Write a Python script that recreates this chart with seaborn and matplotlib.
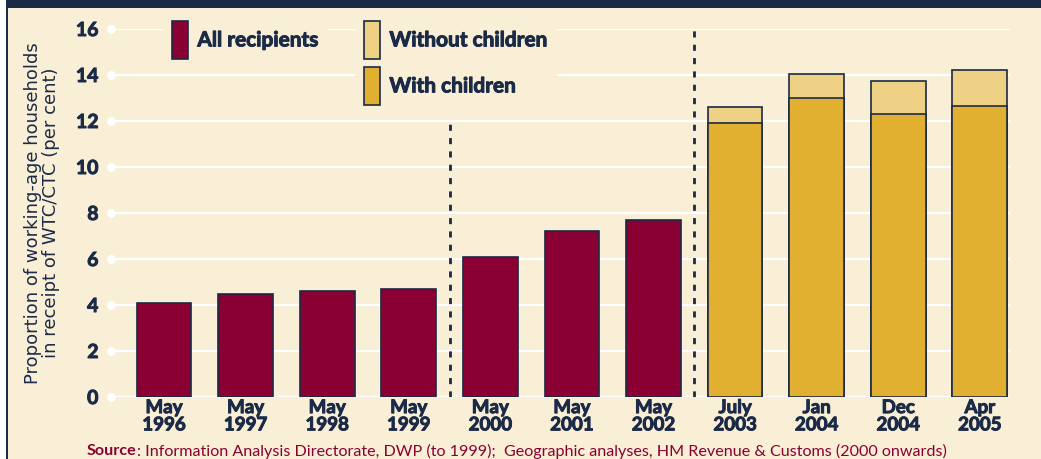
import matplotlib
matplotlib.use("Agg")
import matplotlib.pyplot as plt
import matplotlib.patheffects as pe
from matplotlib.patches import Patch, Rectangle
import seaborn as sns
import pandas as pd

# data
periods = ["May\n1996", "May\n1997", "May\n1998", "May\n1999", "May\n2000", "May\n2001",
           "May\n2002", "July\n2003", "Jan\n2004", "Dec\n2004", "Apr\n2005"]
all_recipients = [4.1, 4.5, 4.6, 4.7, 6.1, 7.2, 7.7]
with_children = [11.9, 13.0, 12.3, 12.65]
without_children = [0.7, 1.05, 1.45, 1.55]
y_ticks = [0, 2, 4, 6, 8, 10, 12, 14, 16]

maroon = "#8a0032"
gold = "#e1b030"
light_gold = "#eed185"
navy = "#1b2a47"
bg = "#f9eed6"

sns.set_theme(style="white")
plt.rcParams["font.family"] = ["Lato", "DejaVu Sans"]
heavy = [pe.withStroke(linewidth=0.7, foreground=navy)]

n_all = len(all_recipients)
totals = all_recipients + [w + wo for w, wo in zip(with_children, without_children)]
df = pd.DataFrame({"period": periods, "total": totals})
pal = {p: (maroon if i < n_all else light_gold) for i, p in enumerate(periods)}
df_with = pd.DataFrame({"period": periods[n_all:], "value": with_children})

W, H = 1041, 459
fig = plt.figure(figsize=(W / 100, H / 100), dpi=100)
fig.patch.set_facecolor("white")
# panel background, top band and left rule
fig.patches.append(Rectangle((7 / W, 0), 1, 1 - 8 / H, transform=fig.transFigure,
                             facecolor=bg, edgecolor="none", zorder=-10))
fig.patches.append(Rectangle((6 / W, 1 - 8 / H), 1, 8 / H, transform=fig.transFigure,
                             facecolor=navy, edgecolor="none", zorder=-9))
fig.patches.append(Rectangle((5.5 / W, 0), 2 / W, 1, transform=fig.transFigure,
                             facecolor=navy, edgecolor="none", zorder=-9))

ax = fig.add_axes([111 / W, 1 - 397 / H, 899 / W, 368 / H])
ax.set_facecolor("none")

sns.barplot(data=df, x="period", y="total", hue="period", palette=pal, order=periods,
            legend=False, width=0.67, edgecolor=navy, linewidth=1.2, saturation=1, ax=ax)
sns.barplot(data=df_with, x="period", y="value", order=periods, color=gold,
            width=0.67, edgecolor=navy, linewidth=1.2, saturation=1, ax=ax)

ax.set_xlim(-0.65, 10.37)
ax.set_ylim(0, 16)
ax.set_yticks(y_ticks)
ax.yaxis.grid(True, color="white", lw=1.6)
ax.set_axisbelow(True)
ax.scatter([-0.65] * len(y_ticks), y_ticks, s=30, color="white", clip_on=False, zorder=1)
for s in ax.spines.values():
    s.set_visible(False)
ax.tick_params(axis="y", length=0, pad=9, labelsize=14, labelcolor=navy)
ax.tick_params(axis="x", length=0, pad=1.5, labelsize=13.5, labelcolor=navy)
for lbl in ax.get_yticklabels():
    lbl.set_fontweight("bold")
    lbl.set_path_effects(heavy)
for lbl in ax.get_xticklabels():
    lbl.set_fontweight("bold")
    lbl.set_linespacing(1.02)
    lbl.set_path_effects(heavy)
ax.set_xlabel("")
ax.set_ylabel("")

# breaks in the series
ax.plot([3.5, 3.5], [0, 12], color=navy, lw=2, ls=(0, (2.2, 2.6)), zorder=3)
ax.plot([6.5, 6.5], [0, 16], color=navy, lw=2, ls=(0, (2.2, 2.6)), zorder=3)

fs_leg = 15
fs_px = fs_leg * 100 / 72
leg_kw = dict(frameon=True, facecolor=bg, edgecolor="none", framealpha=1, fancybox=False,
              handlelength=16 / fs_px, handleheight=(38 / fs_px - 0.245) / 0.65,
              handletextpad=0.45, labelspacing=8 / fs_px,
              borderpad=0.45, borderaxespad=0, loc="upper left", bbox_transform=fig.transFigure,
              prop={"weight": "bold", "size": fs_leg}, labelcolor=navy)
pad_px = 0.45 * fs_px
leg1 = ax.legend(handles=[Patch(facecolor=maroon, edgecolor=navy, lw=1.2, label="All recipients")],
                 bbox_to_anchor=((172 - pad_px) / W, 1 - (21 - pad_px) / H), **leg_kw)
ax.add_artist(leg1)
leg2 = ax.legend(handles=[Patch(facecolor=light_gold, edgecolor=navy, lw=1.2, label="Without children"),
                          Patch(facecolor=gold, edgecolor=navy, lw=1.2, label="With children")],
                 bbox_to_anchor=((364 - pad_px) / W, 1 - (21 - pad_px) / H), **leg_kw)
for leg in (leg1, leg2):
    for t in leg.get_texts():
        t.set_path_effects(heavy)

fig.text(42 / W, 1 - 213 / H, "Proportion of working-age households\nin receipt of WTC/CTC (per cent)",
         rotation=90, ha="center", va="center", multialignment="center", color=navy,
         fontsize=13, family=["DejaVu Sans"], linespacing=1.02)

t1 = fig.text(87 / W, 1 - 451 / H, "Source", color=maroon, fontsize=11.6, fontweight="bold",
              va="center", ha="left")
fig.canvas.draw()
bb = t1.get_window_extent()
fig.text(bb.x1 / W, 1 - 451 / H,
         ": Information Analysis Directorate, DWP (to 1999);  Geographic analyses, HM Revenue & Customs (2000 onwards)",
         color=maroon, fontsize=11.6, va="center", ha="left")

fig.savefig("out.png", dpi=100, facecolor=fig.get_facecolor())
